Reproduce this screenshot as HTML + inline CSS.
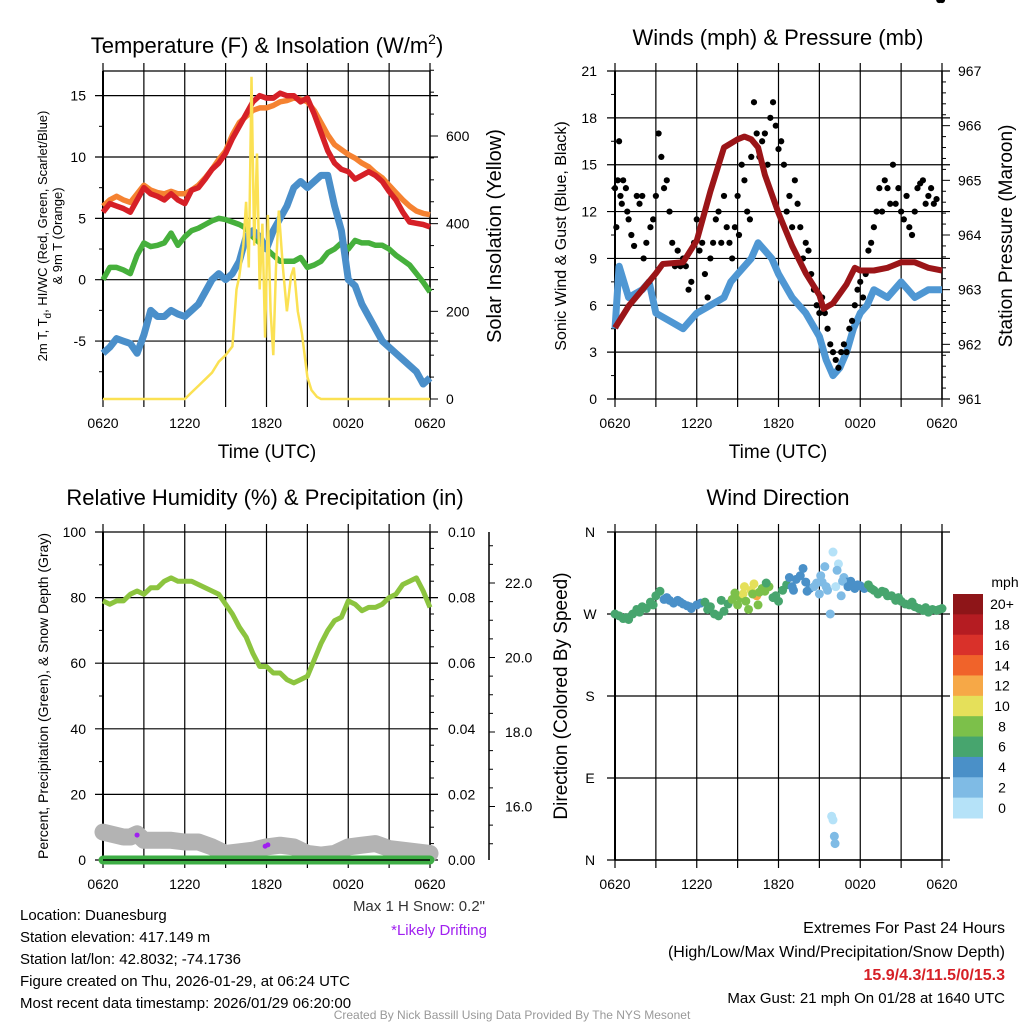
<!DOCTYPE html>
<html><head><meta charset="utf-8"><style>
body{margin:0;background:#fff}
svg{display:block;font-family:"Liberation Sans",sans-serif}
</style></head><body>
<svg id="c" width="1024" height="1024" viewBox="0 0 1024 1024"></svg>
<script>
// ---------- data ----------
const tempHours=[0,0.5,1,1.5,2,2.5,3,3.5,4,4.5,5,5.5,6,6.5,7,7.5,8,8.5,9,9.5,10,10.5,11,11.5,12,12.5,13,13.5,14,14.5,15,15.5,16,16.5,17,17.5,18,18.5,19,19.5,20,20.5,21,21.5,22,22.5,23,23.5,24];
const tempRed=[5.5,6.2,6,5.8,5.5,6.5,7.5,7,6.8,6.5,7,6.5,6.2,7.3,7.5,8.2,9,9.5,10.3,11.5,12.5,13.5,14.5,15,14.8,14.8,15.2,15,15,14.5,14.8,13.5,12,10.5,9.5,9,8.8,8.2,8.5,8.8,8.5,8,7.2,6.5,5.5,4.7,4.6,4.5,4.3];
const tempOrange=[6,6.5,6.8,6.5,6.3,7,7.7,7.3,7.1,7,7.2,7,7,7.3,7.7,8.3,9,9.8,10.5,11.8,12.8,13.3,13.8,14,14,14.2,14.5,14.6,14.8,14.7,14.5,13.8,12.8,11.8,11,10.6,10.2,9.9,9.5,9.2,8.7,8.3,7.7,7.1,6.5,6,5.6,5.4,5.3];
const tempGreen=[0,1,1,0.8,0.5,2,3,2.7,2.8,3,3.8,2.8,3.5,4,4.2,4.5,4.8,5,4.9,4.7,4.5,4.2,3.5,3,2.5,2,1.5,1.5,1.5,1.8,1,1.2,1.5,2.2,2.5,3,2.5,3.2,3,3,2.8,2.8,2.5,2,1.6,1.2,0.5,-0.2,-1];
const tempBlue=[-6,-5.5,-4.8,-5,-5.2,-6,-4.5,-2.5,-3,-3,-2.5,-2.8,-3,-2.5,-2,-1,0,0.5,0,0.5,1.5,3.5,4,3.5,2.5,4,5,6,7.5,8,7.5,8,8.5,8.5,6,4,0,-0.5,-2,-3,-4,-5,-5.5,-6,-6.5,-7,-7.5,-8.5,-8];
const solarHours=[0,6,6.5,7,7.5,8,8.5,9,9.5,9.8,10,10.3,10.5,10.7,10.9,11.1,11.3,11.5,11.7,11.9,12.1,12.3,12.5,12.7,12.9,13.2,13.5,13.8,14,14.3,14.6,15,15.3,15.7,16,24];
const solarVals=[0,0,15,30,45,60,85,100,120,250,280,350,450,300,735,350,560,250,400,140,420,200,100,300,430,300,200,280,300,200,150,50,20,5,0,0];

const windHours=[0,0.3,1,2,2.5,3,4,5,6,7,8,8.5,9,10,10.5,11,11.5,12,13,14,15,15.5,16,16.5,17,17.5,18,18.5,19,20,21,22,23,24];
const windSpeed=[4.5,8.5,6.5,7,7.5,5.5,5,4.5,5.5,6,6.5,7.5,8,9,10,9.5,9,8,6.5,5.5,4,2.5,1.5,2,3,4.5,5.5,6,7,6.5,7.5,6.5,7,7];
const presHours=[0,1,2,3,3.5,5,6,7,8,9,9.5,10,10.5,11,12,13,14,15,15.3,16,17,17.6,18,19,20,21,22,23,24];
const presVals=[962.3,962.7,963,963.3,963.47,963.5,963.9,964.8,965.6,965.75,965.8,965.75,965.6,965.1,964.4,963.8,963.3,962.9,962.65,962.75,963.1,963.4,963.35,963.35,963.4,963.5,963.5,963.4,963.35];
const gustHours=[0,0.1,0.2,0.3,0.4,0.5,0.6,0.8,0.9,1,1.2,1.4,1.6,1.8,2,2.1,2.3,2.5,2.6,2.8,3,3.2,3.4,3.6,3.8,4,4.2,4.4,4.6,4.8,5,5.2,5.4,5.6,5.8,6,6.2,6.4,6.6,6.8,7,7.2,7.4,7.6,7.8,8,8.2,8.4,8.6,8.8,9,9.1,9.3,9.5,9.7,9.9,10,10.2,10.4,10.6,10.8,11,11.2,11.4,11.6,11.8,12,12.2,12.4,12.6,12.8,13,13.2,13.4,13.6,13.8,14,14.2,14.4,14.6,14.8,15,15.2,15.4,15.6,15.8,16,16.2,16.4,16.6,16.8,17,17.2,17.4,17.6,17.8,18,18.2,18.4,18.6,18.8,19,19.2,19.4,19.6,19.8,20,20.2,20.4,20.6,20.8,21,21.2,21.4,21.6,21.8,22,22.2,22.4,22.6,22.8,23,23.2,23.4,23.6,23.8,24];
const gustVals=[13.5,11,14,16.5,13,12.5,14,13.5,12,11.5,10.5,9.8,13,12.5,13,9,10,7.5,11,11.5,13,17,15.5,13.5,14,12,10,8.5,9.5,8.5,9,8.5,7,7.5,10,11.5,9.5,10,8,6.5,9,10,11.5,12,10,13,11,10,9,11,13,10.5,15,14,12,11.5,15.5,19,17,15.5,16.5,17,15,18,19,17.5,16,16.5,15,12,13,11,14,12.5,11,9,10,9.5,8,7,6,5.5,6.5,5.5,4.5,3.5,3,2.5,2,3,3.5,3,4.5,5,6,7,7.5,6.5,8,9.5,10,11,12,13.5,12,14,13.5,12.5,15,12.5,13.5,12,11.5,13,11,10.5,12,13.5,13.8,14,12.5,13,13.5,12.5,12.8];

const rhHours=tempHours;
const rhVals=[79,78,79,79,81,82,81,83,83,85,86,85,85,85,84,83,82,81,78,75,71,68,63,59,59,57,57,55,54,55,56,61,66,70,73,74,79,78,76,77,77,78,80,81,84,85,86,82,77];
const snowHours=[0,0.5,1,1.5,2,2.5,3,4,5,6,7,8,9,10,11,12,13,14,15,16,17,18,19,20,21,22,23,24];
const snowVals=[8.5,8,7.5,7,7,8,6,6,6,5.5,5.5,4,2,2.5,3,4,4.5,4,2,1.5,2,4,4.5,5,3.5,3,2.5,2];
const precipHours=[0,24];
const precipVals=[0,0];
const driftHours=[2.5,11.9,12.1];
const driftVals=[7.6,4.2,4.6];

const dirHours=[
0,0.3,0.6,1,1.3,1.6,2,2.3,2.6,3,
3.3,3.6,4,4.3,4.6,5,5.3,5.6,6,6.3,
6.6,7,7.3,7.6,8,8.3,8.6,9,9.2,9.4,
9.6,9.8,10,10.2,10.4,10.6,10.8,11,11.3,11.6,
12,12.3,12.6,13,13.3,13.6,14,14.3,14.6,15,
15.2,15.4,15.6,15.8,16,16.2,16.4,16.6,16.8,17,
17.3,17.6,18,18.3,18.6,19,19.3,19.6,20,20.3,
20.6,21,21.3,21.6,22,22.3,22.6,23,23.3,23.6,
24,15.9,16,16.1,16.15,
0.8,1.8,2.8,3.8,4.8,5.5,6.8,7.8,8.8,9.5,
10.1,10.5,11.1,11.8,12.8,13.1,13.8,14.1,14.8,15.1,
15.5,16.3,16.7,17.1,17.8,18.8,19.8,20.8,21.8,22.8,
23.8];
const dirVals=[
270,268,265,264,270,275,278,276,283,290,
295,286,285,282,285,281,279,276,280,282,
283,278,270,268,273,281,286,280,288,292,
284,275,296,303,290,294,298,295,300,288,
284,296,302,300,308,312,305,298,300,292,
305,322,296,270,338,300,325,290,310,305,
306,298,301,298,302,296,292,295,290,290,
285,284,281,280,278,276,274,272,275,274,
276,48,44,26,18,
266,272,280,288,283,278,275,285,293,300,
292,280,304,290,310,296,320,295,304,312,
300,318,306,300,302,298,294,288,283,277,
275];
const dirSpeeds=[
6,6,6,7,6,6,6,6,6,7,
6,5,4,4,5,4,4,5,4,5,
6,6,6,7,7,7,8,8,9,10,
9,8,10,11,12,9,8,8,8,7,
7,7,6,5,5,4,4,4,3,3,
2,2,2,2,1,1,1,2,3,4,
4,4,5,5,6,6,7,7,7,7,
7,7,7,7,7,7,6,7,7,7,
7,1,1,2,3,
7,6,6,5,4,5,6,7,9,10,
8,8,7,6,5,4,4,4,3,2,
3,2,3,4,5,6,7,7,7,7,
7];
const cbLabels=["20+","18","16","14","12","10","8","6","4","2","0"];
const cbColors=["#8e1518","#b51c22","#d9312a","#f0632a","#f6a847","#e5e05a","#7cc04a","#47a56e","#4a90c8","#7fbbe5","#b5e2f8"];
const timeLabels=["0620","1220","1820","0020","0620"];

// ---------- helpers ----------
const NS="http://www.w3.org/2000/svg";
const svg=document.getElementById('c');
function mk(tag,attrs,parent){const e=document.createElementNS(NS,tag);for(const k in attrs)e.setAttribute(k,attrs[k]);(parent||svg).appendChild(e);return e;}
function txt(x,y,s,size,anchor,parent,extra){const e=mk('text',Object.assign({x:x,y:y,'font-size':size,'text-anchor':anchor||'middle',fill:'#000'},extra||{}),parent);e.textContent=s;return e;}
function group(name){const g=mk('g',{});return g;}
const TOP=71,BOT=399;
function xS(x0){return h=>x0+h*327/24;}
function lin(d0,d1,r0,r1){return v=>r0+(v-d0)*(r1-r0)/(d1-d0);}
function path(hours,vals,X,Y){return hours.map((h,i)=>(i?'L':'M')+X(h).toFixed(1)+' '+Y(vals[i]).toFixed(1)).join(' ');}

function frame(g,x0,top,bot){
  const X=xS(x0);
  for(let i=0;i<=8;i++){const x=X(i*3);mk('line',{x1:x,y1:top-8,x2:x,y2:bot+8,stroke:'#000','stroke-width':1.2},g);}
  mk('line',{x1:x0,y1:top,x2:x0,y2:bot,stroke:'#000','stroke-width':2},g);
  mk('line',{x1:X(24),y1:top,x2:X(24),y2:bot,stroke:'#000','stroke-width':1.5},g);
  timeLabels.forEach((s,i)=>{const t=txt(X(i*6),bot+29,s,14,'middle',g);});
}
function hgrid(g,x0,y,ext){mk('line',{x1:x0-ext,y1:y,x2:x0+327+ext,y2:y,stroke:'#000','stroke-width':1.2},g);}
function ticksL(g,x0,y,len){mk('line',{x1:x0-len,y1:y,x2:x0,y2:y,stroke:'#000','stroke-width':1},g);}
function ticksR(g,x1,y,len){mk('line',{x1:x1,y1:y,x2:x1+len,y2:y,stroke:'#000','stroke-width':1},g);}
function rot(x,y,s,size,parent,name){const t=txt(x,y,s,size,'middle',parent,{transform:`rotate(-90 ${x} ${y})`});return t;}

// ---------- panel 1 ----------
(function(){
const g=group('temperature-panel');
const X=xS(103),Y=lin(0,5,279.7,218.35),YS=lin(0,600,399,136);
[15,10,5,0,-5].forEach(v=>{hgrid(g,103,Y(v),8);txt(86,Y(v)+5,String(v),14,'end',g);});
[12.5,7.5,2.5,-2.5,-7.5].forEach(v=>ticksL(g,103,Y(v),4));
for(let v=0;v<=750;v+=50){ticksR(g,430,YS(v),v%200==0?8:4);}
[0,200,400,600].forEach(v=>txt(446,YS(v)+5,String(v),14,'start',g));
frame(g,103,TOP,BOT);
mk('line',{x1:103,y1:TOP,x2:430,y2:TOP,stroke:'#000','stroke-width':1.2},g);
const lines=[[tempOrange,'#f58231','temp-9m-line',5.5],[tempRed,'#d62027','temp-2m-line',5.5],[tempGreen,'#46b03c','dewpoint-line',5.5],[tempBlue,'#4a8fca','windchill-line',7]];
lines.forEach(([v,c,n,w])=>{const p=mk('path',{d:path(tempHours,v,X,Y),fill:'none',stroke:c,'stroke-width':w,'stroke-linejoin':'round'},g);});
const s=mk('path',{d:path(solarHours,solarVals,X,YS),fill:'none',stroke:'#fbe153','stroke-width':2.5},g);


const t=txt(267,53,'',22,'middle',g);t.innerHTML='Temperature (F) &amp; Insolation (W/m<tspan dy="-9" font-size="14">2</tspan><tspan dy="9">)</tspan>';

rot(47,236,'',13,g,'y-axis-title').innerHTML='2m T, T<tspan dy="4" font-size="10">d</tspan><tspan dy="-4">, HI/WC (Red, Green, Scarlet/Blue)</tspan>';
rot(62,236,'& 9m T (Orange)',13,g,'y-axis-title-line2');
rot(501,236,'Solar Insolation (Yellow)',20,g,'y2-axis-title');
const xt=txt(267,458,'Time (UTC)',19,'middle',g);
})();

// ---------- panel 2 ----------
(function(){
const g=group('winds-panel');
const X=xS(615),Y=lin(0,21,399,71),YP=lin(961,967,399,71);
for(let v=0;v<=21;v+=3){hgrid(g,615,Y(v),8);txt(597,Y(v)+5,String(v),14,'end',g);}
for(let v=1.5;v<21;v+=3)ticksL(g,615,Y(v),4);
for(let v=961;v<=967.001;v+=0.2){const maj=Math.abs(v-Math.round(v))<0.01;ticksR(g,942,YP(v),maj?8:4);}
for(let v=961;v<=967;v++)txt(958,YP(v)+5,String(v),14,'start',g);
frame(g,615,TOP,BOT);
const b=mk('path',{d:path(windHours,windSpeed,X,Y),fill:'none',stroke:'#4f97d3','stroke-width':7,'stroke-linejoin':'round'},g);

gustHours.forEach((h,i)=>{const c=mk('circle',{cx:X(h),cy:Y(gustVals[i]),r:3.1,fill:'#000'},g);

});
const p=mk('path',{d:path(presHours,presVals,X,YP),fill:'none',stroke:'#9b1518','stroke-width':6,'stroke-linejoin':'round'},g);

const t=txt(778,45,'Winds (mph) & Pressure (mb)',22,'middle',g);
rot(566,236,'Sonic Wind & Gust (Blue, Black)',16,g,'y-axis-title');
rot(1012,236,'Station Pressure (Maroon)',19,g,'y2-axis-title');
const xt=txt(778,458,'Time (UTC)',19,'middle',g);
})();

// ---------- panel 3 ----------
(function(){
const g=group('humidity-panel');
const T=532,B=860;
const X=xS(103),Y=lin(0,100,B,T),YP=lin(0,0.1,B,T),YD=lin(22,20,583,657.5);
for(let v=0;v<=100;v+=20){hgrid(g,103,Y(v),8);txt(86,Y(v)+5,String(v),14,'end',g);}
for(let v=10;v<100;v+=20)ticksL(g,103,Y(v),4);
for(let i=0;i<=20;i++){ticksR(g,430,YP(i*0.005),i%4==0?8:4);}
for(let i=0;i<=5;i++)txt(448,YP(i*0.02)+5,(i*0.02).toFixed(2),14,'start',g);
mk('line',{x1:489,y1:T,x2:489,y2:B,stroke:'#000','stroke-width':1.5},g);
for(let v=15;v<=23;v+=0.5){const y=YD(v);if(y>=T&&y<=B)ticksR(g,489,y,Number.isInteger(v)&&v%2==0?6:4);}
[22,20,18,16].forEach(v=>txt(505,YD(v)+5,v.toFixed(1),14,'start',g));
frame(g,103,T,B);
const s=mk('path',{d:path(snowHours,snowVals,X,Y),fill:'none',stroke:'#b3b3b3','stroke-width':17,'stroke-linejoin':'round','stroke-linecap':'round'},g);

const pr=mk('path',{d:path(precipHours,precipVals,X,YP),fill:'none',stroke:'#3eae45','stroke-width':9,'stroke-linecap':'round'},g);

mk('line',{x1:103,y1:B,x2:430,y2:B,stroke:'#000','stroke-width':1.5},g);
driftHours.forEach((h,i)=>{const c=mk('circle',{cx:X(h),cy:Y(driftVals[i]),r:2.5,fill:'#a020f0'},g);

});
const r=mk('path',{d:path(rhHours,rhVals,X,Y),fill:'none',stroke:'#8cc43f','stroke-width':5,'stroke-linejoin':'round'},g);

const t=txt(265,505,'Relative Humidity (%) & Precipitation (in)',22,'middle',g);
rot(48,696,'Percent, Precipitation (Green), & Snow Depth (Gray)',14,g,'y-axis-title');
})();

// ---------- panel 4 ----------
(function(){
const g=group('wind-direction-panel');
const T=532,B=860;
const X=xS(615),Y=lin(0,360,B,T);
const dl=['N','E','S','W','N'];
for(let i=0;i<=4;i++){hgrid(g,615,Y(i*90),8);txt(590,Y(i*90)+5,dl[i],14,'middle',g);}
frame(g,615,T,B);
mk('line',{x1:615,y1:B,x2:942,y2:B,stroke:'#000','stroke-width':1.5},g);
function col(s){let k=Math.floor(s/2);if(k>10)k=10;if(k<0)k=0;return cbColors[10-k];}
dirHours.forEach((h,i)=>{const c=mk('circle',{cx:X(h),cy:Y(dirVals[i]),r:4.5,fill:col(dirSpeeds[i])},g);

});
const t=txt(778,505,'Wind Direction',22,'middle',g);
rot(567,696,'Direction (Colored By Speed)',19,g,'y-axis-title');
const cb=group('colorbar');
const bh=224/11;
cbColors.forEach((c,i)=>{mk('rect',{x:953,y:594+i*bh,width:30,height:bh+0.5,fill:c},cb);txt(1002,594+i*bh+bh/2+5,cbLabels[i],14,'middle',cb);});
txt(1005,587,'mph',14,'middle',cb);
})();

// ---------- footer text ----------
(function(){
const g=group('station-info');
const L=['Location: Duanesburg','Station elevation: 417.149 m','Station lat/lon: 42.8032; -74.1736','Figure created on Thu, 2026-01-29, at 06:24 UTC','Most recent data timestamp: 2026/01/29 06:20:00'];
L.forEach((s,i)=>txt(20,920+i*22,s,15,'start',g));
txt(485,911,'Max 1 H Snow: 0.2"',15,'end',g,{fill:'#333'});
txt(487,935,'*Likely Drifting',15,'end',g,{fill:'#a020f0'});
txt(1005,933,'Extremes For Past 24 Hours',16,'end',g);
txt(1005,957,'(High/Low/Max Wind/Precipitation/Snow Depth)',16,'end',g);
txt(1005,980,'15.9/4.3/11.5/0/15.3',16,'end',g,{fill:'#d62027','font-weight':'bold'});
txt(1005,1003,'Max Gust: 21 mph On 01/28 at 1640 UTC',15,'end',g);
txt(512,1019,'Created By Nick Bassill Using Data Provided By The NYS Mesonet',12,'middle',g,{fill:'#999'});
})();
</script>
</body></html>
